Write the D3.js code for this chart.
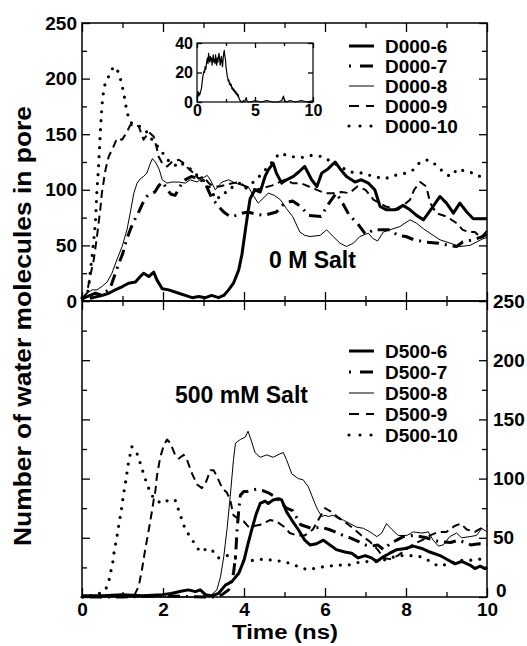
<!DOCTYPE html>
<html><head><meta charset="utf-8">
<script src="https://cdn.jsdelivr.net/npm/d3@7"></script>
<style>body{margin:0;background:#fff}</style>
</head><body><div id="chart"></div>
<script>
// ---------- DATA ----------
const xMajorTicks = [0, 2, 4, 6, 8, 10];
const xMinorTicks = [1, 3, 5, 7, 9];
const yMajorTicks = [0, 50, 100, 150, 200, 250];
const yMinorTicks = [25, 75, 125, 175, 225];
const insetXTicks = [0, 5, 10];
const insetXMinor = [2.5, 7.5];
const insetYTicks = [0, 20, 40];

const topNames = ["D000-6", "D000-7", "D000-8", "D000-9", "D000-10"];
const botNames = ["D500-6", "D500-7", "D500-8", "D500-9", "D500-10"];

// 0 M salt
const d000_6_t = [0,0.2,0.33,0.5,0.66,0.82,1.0,1.15,1.32,1.44,1.52,1.65,1.77,1.85,1.98,2.14,2.39,2.55,2.72,2.88,3.05,3.2,3.37,3.5,3.62,3.74,3.87,3.95,4.05,4.15,4.27,4.4,4.52,4.6,4.72,4.8,4.93,5.05,5.22,5.35,5.5,5.67,5.8,5.92,6.08,6.25,6.37,6.53,6.74,6.9,7.07,7.23,7.36,7.52,7.73,7.93,8.1,8.26,8.43,8.63,8.84,9.0,9.17,9.33,9.5,9.66,9.83,10];
const d000_6_v = [2,5,7,5,7,10,13,16,17,22,25,22,26,19,11,10,7,5,3,4,3,5,3,5,10,16,28,42,68,92,100,98,112,118,124,115,106,109,112,116,121,109,103,115,119,125,119,112,107,109,106,100,85,82,82,86,82,77,73,83,94,88,79,88,80,74,74,74];

const d000_7_t = [0,0.25,0.5,0.7,0.9,1.0,1.1,1.2,1.3,1.4,1.5,1.6,1.7,1.8,1.9,2.0,2.1,2.2,2.3,2.5,2.7,2.9,3.05,3.2,3.35,3.5,3.65,3.8,3.95,4.1,4.3,4.5,4.8,5.0,5.2,5.4,5.6,5.9,6.1,6.28,6.45,6.6,6.8,7.0,7.2,7.6,7.8,8.0,8.2,8.5,8.8,9.05,9.25,9.4,9.65,9.9,10];
const d000_7_v = [1,3,5,12,33,42,55,65,73,80,88,94,97,98,104,107,100,96,95,108,112,110,105,93,86,80,76,77,79,80,78,77,80,88,90,85,77,76,88,97,87,77,70,60,64,64,59,58,55,53,52,50,49,53,55,58,60];

const d000_8_t = [0,0.12,0.25,0.37,0.49,0.62,0.74,0.86,0.99,1.11,1.19,1.28,1.36,1.44,1.52,1.6,1.69,1.74,1.83,1.91,1.98,2.1,2.22,2.39,2.55,2.67,2.84,2.96,3.09,3.17,3.29,3.46,3.62,3.79,3.95,4.1,4.23,4.35,4.6,4.75,4.9,5.05,5.2,5.38,5.5,5.63,5.88,6.04,6.2,6.37,6.53,6.7,6.86,7.07,7.19,7.3,7.44,7.6,7.85,8.1,8.26,8.43,8.59,8.84,9.09,9.33,9.58,9.74,9.9,10];
const d000_8_v = [1,7,10,10,13,17,25,37,49,64,79,97,106,110,112,115,124,128,124,118,109,106,107,107,106,109,107,110,113,109,100,107,109,106,104,103,95,88,97,95,91,83,76,62,59,58,59,64,58,52,49,52,58,61,56,54,62,64,67,73,70,65,61,55,52,49,50,53,56,57];

const d000_9_t = [0,0.12,0.2,0.29,0.37,0.45,0.49,0.58,0.66,0.78,0.86,0.99,1.11,1.19,1.3,1.4,1.52,1.65,1.77,1.85,1.89,1.98,2.1,2.22,2.39,2.51,2.63,2.76,2.88,3.0,3.13,3.25,3.4,3.6,3.87,4.03,4.3,4.7,5.0,5.2,5.4,5.6,5.8,6.0,6.2,6.4,6.6,6.8,7.0,7.2,7.5,7.8,8.0,8.1,8.2,8.35,8.5,8.6,8.75,9.0,9.25,9.4,9.55,9.7,9.85,10];
const d000_9_v = [2,7,22,37,58,82,97,118,130,139,146,145,152,158,159,157,145,152,148,137,130,124,121,125,127,124,119,115,110,112,106,103,103,105,107,103,100,104,109,106,106,103,100,97,97,98,97,103,100,91,85,82,88,91,100,107,103,88,79,76,70,64,62,62,57,63];

const d000_10_t = [0,0.1,0.16,0.2,0.25,0.29,0.33,0.37,0.41,0.45,0.49,0.53,0.58,0.66,0.78,0.9,0.97,1.03,1.11,1.19,1.32,1.44,1.6,1.73,1.81,1.93,2.06,2.18,2.3,2.43,2.55,2.72,2.84,2.96,3.09,3.2,3.33,3.46,3.62,3.74,3.9,4.03,4.3,4.6,4.88,5.14,5.42,5.67,5.92,6.12,6.37,6.62,6.95,7.19,7.48,7.73,8.0,8.18,8.35,8.55,8.76,8.92,9.09,9.29,9.5,9.7,9.91,10];
const d000_10_v = [3,6,10,25,40,55,70,100,121,150,175,188,197,202,211,206,197,187,170,161,158,157,152,145,142,136,130,124,122,125,121,118,113,109,107,98,91,97,98,104,106,101,109,121,133,130,129,131,130,126,121,116,115,112,110,113,115,118,125,127,122,116,112,119,116,115,110,110];

// 500 mM salt
const d500_6_t = [0,0.5,1.0,1.5,1.98,2.2,2.47,2.63,2.8,2.92,3.05,3.2,3.37,3.54,3.7,3.87,4.0,4.1,4.2,4.3,4.4,4.52,4.6,4.72,4.85,4.93,5.05,5.18,5.34,5.5,5.63,5.79,5.96,6.12,6.28,6.49,6.66,6.82,6.99,7.15,7.28,7.44,7.6,7.77,7.98,8.18,8.39,8.59,8.84,9.05,9.21,9.37,9.58,9.7,9.83,9.95,10];
const d500_6_v = [1,1,2,1,2,3,5,6,4.5,6,2,1,3,10,13,20,31,45,58,70,79,81,79,82,83,82,72,65,57,48,44,45,48,44,40,38,37,33,35,33,30,34,37,40,41,43,41,38,35,31,28,30,27,24,26,24,25];

const d500_7_t = [0,1,2,3,3.3,3.46,3.62,3.74,3.79,3.83,3.87,3.91,3.99,4.07,4.16,4.3,4.45,4.6,4.8,5.05,5.2,5.4,5.67,5.9,6.1,6.25,6.45,6.62,6.82,7.0,7.15,7.3,7.45,7.6,7.77,7.93,8.2,8.5,8.8,9.1,9.3,9.6,9.8,10];
const d500_7_v = [0,0,1,0,0,2,6,20,34,57,73,86,89,89,90,91,90,88,84,75,73,61,58,59,57,55,52,50,47,44,43,44,40,45,48,51,52,50,47,46,48,44,45,44];

const d500_8_t = [0,1,2,3,3.2,3.33,3.42,3.5,3.58,3.66,3.74,3.79,3.91,4.03,4.1,4.2,4.27,4.4,4.56,4.72,4.89,4.97,5.05,5.18,5.34,5.46,5.59,5.67,5.75,5.83,5.92,6.0,6.08,6.2,6.33,6.45,6.62,6.78,6.95,7.11,7.28,7.4,7.52,7.65,7.81,8.02,8.18,8.39,8.55,8.67,8.8,8.92,9.08,9.25,9.37,9.58,9.74,9.87,10];
const d500_8_v = [0,0,0,0,2,6,17,34,57,85,116,130,133,135,140,130,122,118,120,118,121,122,116,104,100,99,93,86,79,73,68,69,68,69,66,65,62,59,58,55,51,54,62,57,52,52,55,54,55,48,43,44,51,54,50,51,52,58,55];

const d500_9_t = [0,0.5,1.0,1.3,1.4,1.48,1.56,1.65,1.73,1.77,1.81,1.85,1.93,2.02,2.1,2.18,2.3,2.39,2.51,2.59,2.72,2.84,2.96,3.05,3.17,3.25,3.33,3.46,3.58,3.66,3.74,3.87,3.99,4.12,4.4,4.64,4.8,5.0,5.13,5.3,5.5,5.7,5.85,6.0,6.15,6.3,6.5,6.7,6.9,7.1,7.3,7.45,7.6,7.8,8.0,8.2,8.4,8.6,8.8,9.0,9.2,9.35,9.5,9.7,9.85,10];
const d500_9_v = [0,1,1,2,9,23,40,57,73,82,89,102,118,128,133,130,120,117,120,116,104,95,92,96,107,107,102,92,88,82,69,66,64,59,61,65,64,59,54,52,52,57,66,75,72,68,63,58,52,47,40,33,32,35,40,45,48,52,55,55,60,62,57,55,58,60];

const d500_10_t = [0,0.37,0.58,0.66,0.72,0.77,0.8,0.85,0.89,0.93,0.97,1.01,1.05,1.09,1.14,1.23,1.36,1.44,1.52,1.6,1.69,1.8,1.98,2.14,2.3,2.39,2.47,2.55,2.67,2.8,2.92,3.09,3.2,3.37,3.54,3.7,3.9,4.23,4.48,4.72,4.97,5.18,5.38,5.59,5.84,6.08,6.33,6.58,6.78,7.05,7.36,7.6,7.85,8.1,8.35,8.55,8.8,9.05,9.33,9.58,9.83,10];
const d500_10_v = [0,2,6,13,23,31,40,48,57,65,73,83,92,100,112,127,121,113,104,96,88,82,79,82,82,73,65,57,51,44,38,41,40,33,35,35,30,31,32,31,30,28,25,23,25,26,27,27,29,30,30,33,35,35,34,31,26,28,31,31,32,32];

// inset (0 M salt, first trajectory)
const inset_t = [0,0.05,0.1,0.15,0.2,0.25,0.3,0.35,0.4,0.45,0.5,0.55,0.6,0.65,0.7,0.75,0.8,0.85,0.9,0.95,1.0,1.05,1.1,1.15,1.2,1.25,1.3,1.35,1.4,1.45,1.5,1.55,1.6,1.65,1.7,1.75,1.8,1.85,1.9,1.95,2.0,2.05,2.1,2.15,2.2,2.25,2.3,2.35,2.4,2.45,2.5,2.55,2.6,2.65,2.7,2.75,2.8,2.85,2.9,2.95,3.0,3.05,3.1,3.15,3.2,3.25,3.3,3.35,3.4,3.45,3.5,3.55,3.6,3.65,3.7,3.75,3.8,3.9,4.0,4.1,4.2,4.25,4.3,4.4,4.6,5.0,5.5,6.0,6.5,7.0,7.3,7.45,7.55,7.7,8.0,8.5,9.0,9.5,10];
const inset_v = [3,5,7,4,6,5,7,8,10,14,17,19,21,20,24,22,25,28,30,26,33,29,27,31,28,30,25,29,32,27,29,26,32,28,25,30,27,31,33,29,25,28,31,27,24,29,33,35,31,29,24,21,18,16,14,15,12,13,11,12,9,10,8,9,7,8,6,7,5,6,4,5,3,2,1,1,0,0,1,0,2,3,1,0,0,1,0,1,0,0,1,4,1,0,1,0,1,0,1];

// ---------- DRAW ----------
const FONT = "'Liberation Sans', Arial, Helvetica, sans-serif";
const W = 527, H = 646;
const svg = d3.select('#chart').append('svg').attr('width', W).attr('height', H)
  .style('font-family', FONT).style('font-weight', 'bold');
svg.append('rect').attr('width', W).attr('height', H).attr('fill', '#fff');

const x = d3.scaleLinear().domain([0, 10]).range([82, 487]);
const yT = d3.scaleLinear().domain([0, 250]).range([301, 23]);
const yB = d3.scaleLinear().domain([0, 250]).range([597, 301]);

const styles = [
  {w: 3, dash: null, cap: 'butt'},               // -6 thick solid
  {w: 3, dash: '2,6,12,6', cap: 'butt'},         // -7 dash-dot
  {w: 1, dash: null, cap: 'butt'},               // -8 thin solid
  {w: 2, dash: '8,5', cap: 'butt'},              // -9 dashed
  {w: 3.2, dash: '0,9', cap: 'round'}            // -10 dotted
];
const legendStyles = [
  {w: 3, dash: null, cap: 'butt'},
  {w: 3, dash: '2,9,13,6', cap: 'butt'},
  {w: 1, dash: null, cap: 'butt'},
  {w: 2, dash: '10,7', cap: 'butt'},
  {w: 3.2, dash: '0,11', cap: 'round'}
];

const topSeries = [[d000_6_t, d000_6_v],[d000_7_t, d000_7_v],[d000_8_t, d000_8_v],[d000_9_t, d000_9_v],[d000_10_t, d000_10_v]];
const botSeries = [[d500_6_t, d500_6_v],[d500_7_t, d500_7_v],[d500_8_t, d500_8_v],[d500_9_t, d500_9_v],[d500_10_t, d500_10_v]];

function styleAxis(g, fs) {
  g.select('.domain').remove();
  g.selectAll('line').attr('stroke', '#000').attr('stroke-width', 1.3);
  g.selectAll('text').attr('font-size', fs).attr('font-family', FONT)
    .attr('font-weight', 'bold').attr('fill', '#000');
  return g;
}
function addAxis(axis, tx, ty, fs) {
  return styleAxis(svg.append('g').attr('transform', `translate(${tx},${ty})`).call(axis), fs || 19);
}

// top panel axes
addAxis(d3.axisLeft(yT).tickValues(yMajorTicks).tickSize(-8).tickPadding(5), 82, 0);
addAxis(d3.axisLeft(yT).tickValues(yMinorTicks).tickSize(-5).tickFormat(''), 82, 0);
addAxis(d3.axisRight(yT).tickValues(yMajorTicks).tickSize(-8).tickFormat(''), 487, 0);
addAxis(d3.axisRight(yT).tickValues(yMinorTicks).tickSize(-5).tickFormat(''), 487, 0);
addAxis(d3.axisTop(x).tickValues(xMajorTicks).tickSize(-9).tickFormat(''), 0, 23);
addAxis(d3.axisTop(x).tickValues(xMinorTicks).tickSize(-5).tickFormat(''), 0, 23);
addAxis(d3.axisBottom(x).tickValues(xMajorTicks).tickSize(-9).tickFormat(''), 0, 301);
addAxis(d3.axisBottom(x).tickValues(xMinorTicks).tickSize(-5).tickFormat(''), 0, 301);
// bottom panel axes
addAxis(d3.axisTop(x).tickValues(xMajorTicks).tickSize(-9).tickFormat(''), 0, 301);
addAxis(d3.axisTop(x).tickValues(xMinorTicks).tickSize(-5).tickFormat(''), 0, 301);
addAxis(d3.axisBottom(x).tickValues(xMajorTicks).tickSize(-9).tickPadding(6), 0, 597);
addAxis(d3.axisBottom(x).tickValues(xMinorTicks).tickSize(-5).tickFormat(''), 0, 597);
addAxis(d3.axisLeft(yB).tickValues(yMajorTicks).tickSize(-8).tickFormat(''), 82, 0);
addAxis(d3.axisLeft(yB).tickValues(yMinorTicks).tickSize(-5).tickFormat(''), 82, 0);
const rightAxis = addAxis(d3.axisRight(yB).tickValues(yMajorTicks).tickSize(-8).tickPadding(6), 487, 0);
// the zero label sits just above the "10" time label, as in the original
rightAxis.selectAll('.tick').filter(d => d === 0).select('text').attr('dy', '-0.02em').attr('x', 9);
addAxis(d3.axisRight(yB).tickValues(yMinorTicks).tickSize(-5).tickFormat(''), 487, 0);

// frames
svg.append('rect').attr('x', x(0)).attr('y', yT(250)).attr('width', x(10) - x(0)).attr('height', yT(0) - yT(250))
  .attr('fill', 'none').attr('stroke', '#000').attr('stroke-width', 1.5);
svg.append('rect').attr('x', x(0)).attr('y', yB(250)).attr('width', x(10) - x(0)).attr('height', yB(0) - yB(250))
  .attr('fill', 'none').attr('stroke', '#000').attr('stroke-width', 1.5);

function drawSeries(series, yScale) {
  series.forEach((s, i) => {
    const pts = s[0].map((t, k) => [t, s[1][k]]);
    const line = d3.line().x(d => x(d[0])).y(d => yScale(d[1]));
    const st = styles[i];
    svg.append('path').datum(pts).attr('d', line).attr('fill', 'none')
      .attr('stroke', '#000').attr('stroke-width', st.w)
      .attr('stroke-dasharray', st.dash).attr('stroke-linecap', st.cap)
      .attr('stroke-linejoin', 'round');
  });
}
drawSeries(topSeries, yT);
drawSeries(botSeries, yB);

// legends
function legend(names, baseY, step) {
  names.forEach((n, i) => {
    const by = baseY + i * step;
    const st = legendStyles[i];
    svg.append('line').attr('x1', 349).attr('x2', 374).attr('y1', by - 7).attr('y2', by - 7)
      .attr('stroke', '#000').attr('stroke-width', st.w)
      .attr('stroke-dasharray', st.dash).attr('stroke-linecap', st.cap);
    svg.append('text').attr('x', 385).attr('y', by).attr('font-size', 19).text(n);
  });
}
legend(topNames, 53, 20);
legend(botNames, 358, 21);

// panel titles
svg.append('text').attr('x', 269).attr('y', 268).attr('font-size', 23).text('0 M Salt');
svg.append('text').attr('x', 175).attr('y', 403).attr('font-size', 23).text('500 mM Salt');

// axis titles
svg.append('text').attr('x', 285).attr('y', 639).attr('text-anchor', 'middle').attr('font-size', 20)
  .attr('textLength', 106).attr('lengthAdjust', 'spacingAndGlyphs').text('Time (ns)');
svg.append('text').attr('transform', 'translate(31,326) rotate(-90)').attr('text-anchor', 'middle')
  .attr('font-size', 23).attr('textLength', 440).attr('lengthAdjust', 'spacingAndGlyphs')
  .text('Number of water molecules in pore');

// inset
const xi = d3.scaleLinear().domain([0, 10]).range([197, 313]);
const yi = d3.scaleLinear().domain([0, 40]).range([102, 43]);
svg.append('rect').attr('x', 197).attr('y', 43).attr('width', 116).attr('height', 59).attr('fill', '#fff');
const insetPts = inset_t.map((t, k) => [t, inset_v[k]]);
svg.append('path').datum(insetPts).attr('d', d3.line().x(d => xi(d[0])).y(d => yi(d[1])))
  .attr('fill', 'none').attr('stroke', '#000').attr('stroke-width', 1.2).attr('stroke-linejoin', 'round');
addAxis(d3.axisBottom(xi).tickValues(insetXTicks).tickSize(-5).tickPadding(3), 0, 102, 16);
addAxis(d3.axisBottom(xi).tickValues(insetXMinor).tickSize(-3).tickFormat(''), 0, 102, 16);
addAxis(d3.axisTop(xi).tickValues(insetXTicks).tickSize(-5).tickFormat(''), 0, 43, 16);
addAxis(d3.axisTop(xi).tickValues(insetXMinor).tickSize(-3).tickFormat(''), 0, 43, 16);
addAxis(d3.axisLeft(yi).tickValues(insetYTicks).tickSize(-5).tickPadding(4), 197, 0, 16);
addAxis(d3.axisRight(yi).tickValues(insetYTicks).tickSize(-5).tickFormat(''), 313, 0, 16);
svg.append('rect').attr('x', 197).attr('y', 43).attr('width', 116).attr('height', 59)
  .attr('fill', 'none').attr('stroke', '#000').attr('stroke-width', 1.2);
</script>
</body></html>
